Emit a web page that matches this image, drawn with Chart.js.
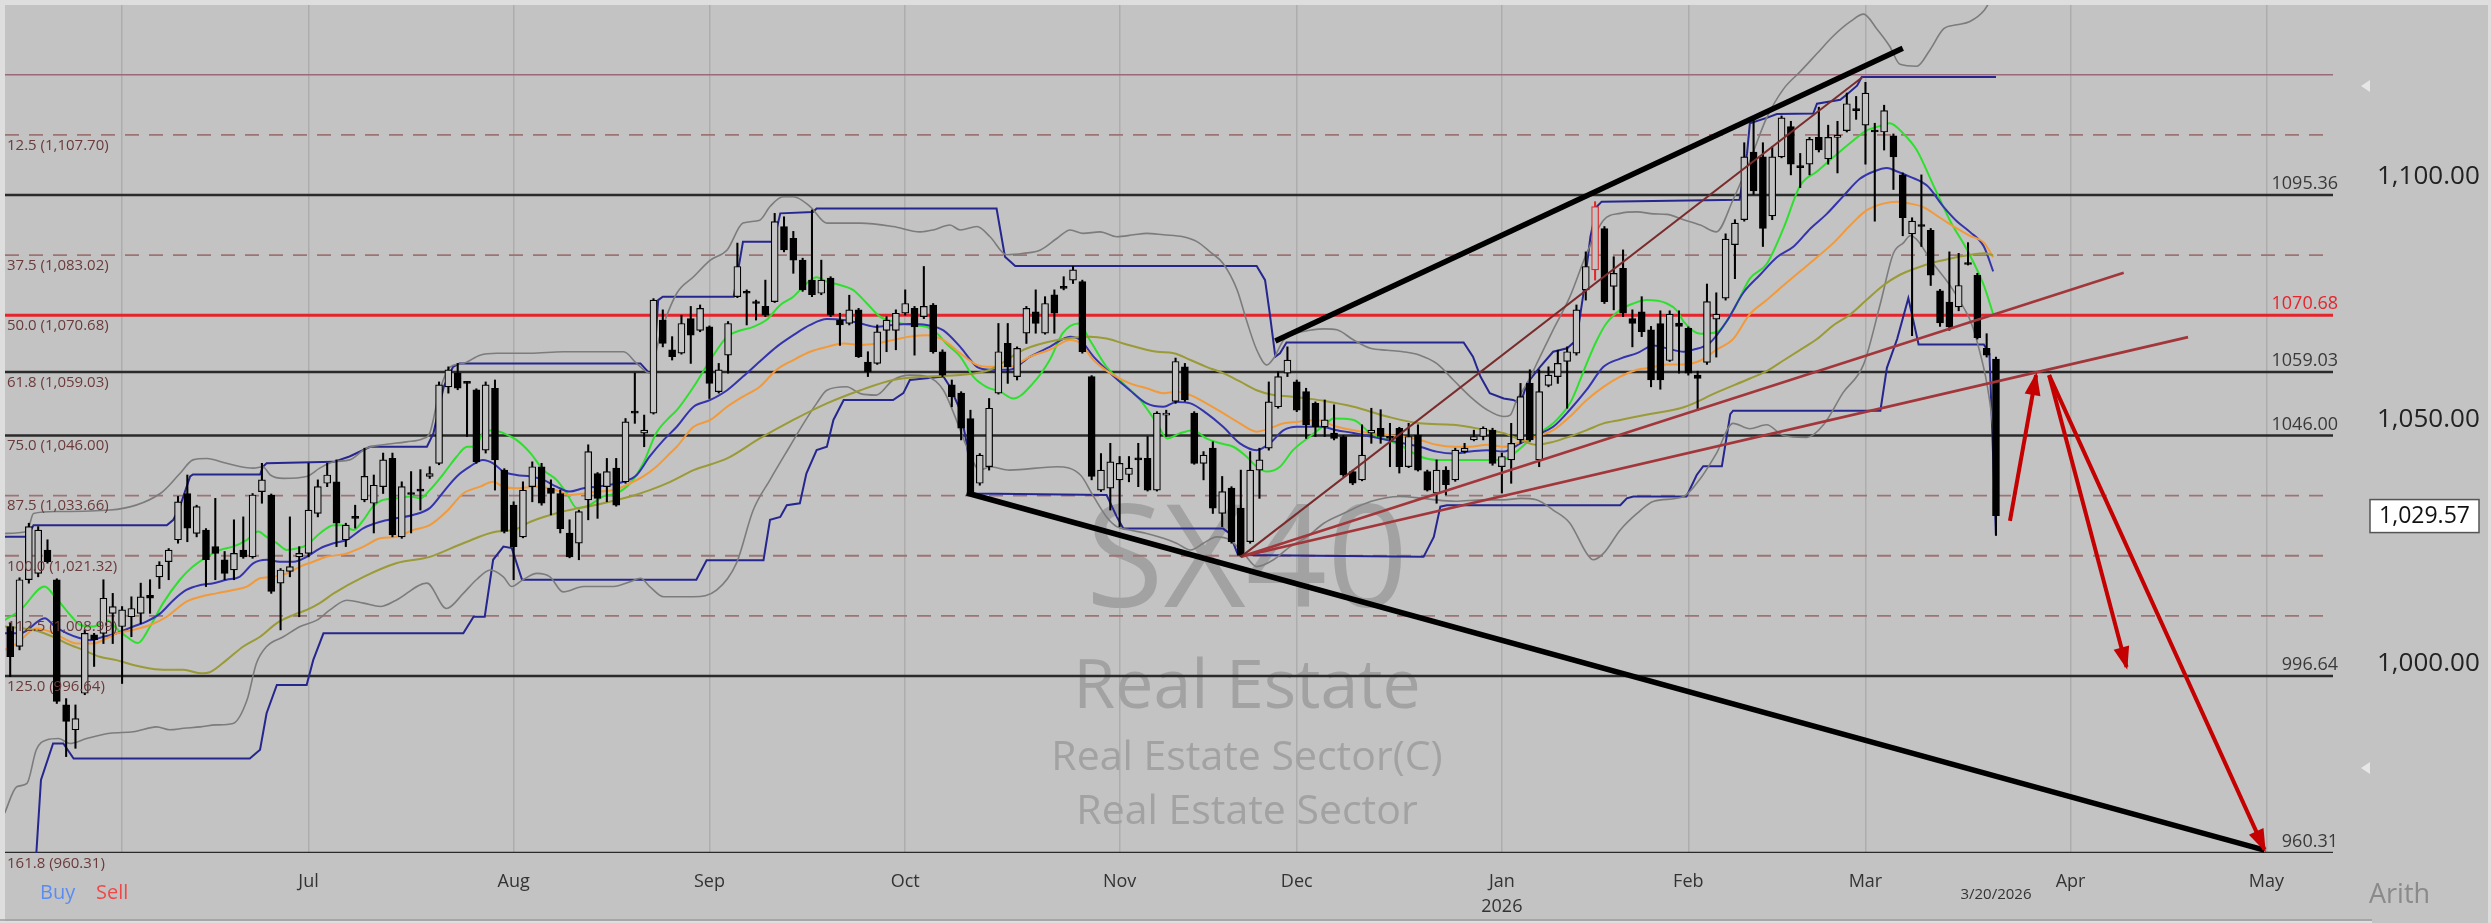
<!DOCTYPE html>
<html><head><meta charset="utf-8">
<script src="https://cdn.jsdelivr.net/npm/chart.js@4.4.1/dist/chart.umd.min.js"></script>
<style>html,body{margin:0;padding:0;background:#c3c3c3;overflow:hidden}canvas{display:block}</style>
</head><body>
<canvas id="c" width="2491" height="923"></canvas>
<script>
// ---------- DATA (daily OHLC, index 0 = first visible trading day, last = 3/20/2026) ----------
const opens = [1006.8,1002.7,1016.4,1017.7,1022.5,1016.4,990.7,985.6,993.1,1005.1,
1005.4,1009.5,1006.8,1008.8,1009.5,1013.2,1017.0,1020.1,1024.6,1034.1,
1025.9,1026.6,1023.2,1020.5,1018.4,1022.5,1021.1,1034.5,1033.8,1015.7,
1018.1,1021.1,1021.8,1030.0,1036.2,1036.5,1024.6,1029.3,1032.8,1032.1,
1035.5,1041.3,1025.2,1034.3,1034.8,1037.6,1040.3,1056.0,1058.8,1056.9,
1055.4,1043.0,1055.7,1038.9,1031.7,1025.2,1035.5,1039.6,1035.2,1034.1,
1026.0,1023.9,1032.8,1038.2,1035.5,1039.3,1036.5,1050.9,1046.5,1050.6,
1069.7,1063.6,1062.9,1070.0,1067.6,1068.3,1055.0,1062.5,1074.5,1075.6,
1073.5,1072.5,1073.5,1088.9,1086.5,1082.0,1077.9,1075.2,1078.3,1069.7,
1069.0,1071.8,1061.1,1060.8,1067.6,1067.6,1071.1,1072.1,1070.4,1072.8,
1063.2,1056.4,1054.7,1049.5,1036.2,1039.6,1054.7,1064.9,1058.1,1067.0,
1071.4,1067.0,1074.9,1076.6,1077.9,1077.6,1058.1,1034.8,1035.2,1036.9,
1038.0,1041.3,1041.3,1034.8,1050.2,1053.0,1060.1,1050.6,1040.3,1043.4,
1030.0,1035.2,1031.1,1024.2,1038.9,1043.4,1051.9,1058.8,1057.0,1055.0,
1052.6,1047.8,1046.5,1045.8,1038.6,1036.9,1046.5,1047.5,1045.8,1047.5,
1039.6,1046.1,1038.6,1034.2,1038.9,1036.9,1042.7,1045.1,1045.8,1047.1,
1039.6,1041.0,1045.1,1056.7,1041.0,1056.3,1058.1,1061.2,1062.9,1075.9,
1080.0,1088.5,1076.6,1080.3,1070.0,1071.4,1067.7,1069.0,1061.4,1069.1,
1068.0,1058.4,1061.0,1069.9,1074.2,1085.2,1090.3,1104.2,1103.2,1091.1,
1103.2,1109.4,1101.4,1101.7,1107.2,1102.8,1107.2,1108.6,1113.1,1109.7,
1108.6,1108.3,1107.5,1099.5,1087.4,1089.2,1088.1,1075.7,1073.4,1072.4,
1081.5,1078.9,1063.9,1061.7];
const highs = [1007.5,1016.8,1028.0,1027.3,1024.6,1016.6,992.0,990.7,1006.1,1005.4,
1016.4,1013.6,1010.9,1012.9,1015.7,1016.4,1020.1,1022.8,1033.5,1037.9,
1031.7,1026.9,1033.1,1022.2,1028.7,1029.3,1034.1,1040.3,1034.0,1018.7,
1029.3,1023.2,1040.3,1036.9,1040.3,1041.0,1028.0,1031.7,1043.4,1037.9,
1042.4,1042.4,1036.5,1038.6,1039.0,1039.6,1057.0,1060.1,1060.8,1057.1,
1055.6,1057.0,1057.4,1039.2,1032.4,1036.5,1040.6,1040.3,1036.9,1034.8,
1028.7,1030.7,1044.1,1038.4,1041.3,1041.3,1049.5,1058.8,1050.2,1074.1,
1071.8,1066.3,1070.7,1072.5,1072.8,1068.5,1060.8,1069.4,1085.5,1075.9,
1073.8,1077.9,1091.6,1090.9,1087.9,1082.4,1092.3,1082.0,1078.6,1071.1,
1074.8,1072.1,1063.2,1068.7,1070.4,1071.8,1075.9,1072.5,1080.7,1073.1,
1063.6,1057.4,1055.0,1051.2,1042.3,1053.6,1069.0,1069.0,1064.2,1072.5,
1075.9,1074.5,1075.9,1078.6,1080.7,1077.9,1058.3,1042.3,1044.4,1041.7,
1041.7,1044.4,1045.8,1050.9,1051.2,1061.9,1060.8,1050.9,1042.7,1044.7,
1037.6,1035.5,1038.9,1042.7,1043.4,1057.0,1059.1,1064.2,1057.4,1055.7,
1052.9,1053.3,1052.3,1046.0,1038.9,1048.2,1051.6,1051.3,1048.5,1047.7,
1048.5,1048.2,1038.9,1041.0,1039.6,1043.4,1044.4,1047.1,1047.8,1047.5,
1042.4,1048.5,1056.7,1059.5,1059.5,1060.1,1063.5,1064.2,1072.8,1083.7,
1094.0,1088.9,1082.7,1084.1,1071.8,1074.5,1068.4,1071.6,1071.6,1071.6,
1068.3,1059.2,1077.1,1075.3,1087.4,1090.3,1106.1,1111.2,1106.1,1105.3,
1111.6,1110.5,1103.9,1107.2,1113.4,1109.7,1110.5,1116.3,1115.6,1118.5,
1110.1,1113.8,1107.9,1099.9,1090.7,1099.5,1088.5,1076.0,1083.7,1083.4,
1085.6,1079.3,1066.9,1062.1];
const lows = [996.5,1002.0,1015.7,1017.0,1019.8,991.0,980.1,981.8,992.8,998.6,
1003.3,1003.3,995.1,1004.7,1007.4,1009.5,1014.6,1016.4,1023.9,1024.2,
1025.2,1015.0,1016.4,1016.4,1016.4,1020.8,1020.8,1032.1,1013.6,1006.1,
1017.0,1008.8,1021.1,1029.3,1035.5,1023.2,1023.2,1027.0,1032.4,1026.0,
1034.1,1025.2,1024.9,1026.0,1030.7,1037.2,1040.0,1054.7,1055.4,1045.8,
1040.3,1042.4,1034.8,1026.0,1016.4,1025.0,1032.4,1031.7,1029.7,1026.0,
1020.9,1020.5,1028.7,1029.0,1032.4,1031.5,1036.2,1048.5,1043.7,1050.4,
1064.2,1061.5,1062.7,1060.8,1067.3,1053.6,1054.7,1058.8,1074.3,1068.7,
1069.7,1070.4,1073.3,1083.7,1079.3,1075.6,1074.5,1074.9,1070.4,1064.5,
1068.7,1062.0,1058.1,1060.6,1063.2,1063.6,1070.7,1062.5,1070.0,1062.9,
1058.1,1051.9,1045.1,1034.0,1035.8,1038.9,1054.5,1056.7,1057.4,1064.9,
1067.0,1066.8,1067.0,1075.9,1077.2,1062.9,1036.9,1034.5,1030.7,1027.3,
1036.5,1035.5,1034.6,1034.6,1045.8,1052.6,1053.0,1040.1,1036.9,1030.0,
1027.3,1023.9,1021.1,1023.9,1033.1,1043.0,1051.6,1058.1,1050.9,1045.4,
1045.8,1045.8,1045.1,1037.6,1035.9,1036.7,1044.4,1044.4,1039.6,1038.3,
1039.4,1038.7,1034.6,1032.1,1033.8,1036.6,1042.4,1044.9,1045.1,1039.9,
1034.2,1036.2,1044.4,1044.8,1039.6,1056.0,1056.7,1051.6,1062.5,1073.8,
1077.9,1073.1,1071.8,1070.4,1064.2,1066.3,1056.0,1055.5,1061.2,1058.8,
1058.4,1051.1,1060.6,1062.1,1073.8,1078.2,1090.0,1095.5,1084.8,1090.3,
1103.0,1099.5,1096.9,1099.5,1104.2,1101.7,1099.9,1108.3,1110.9,1101.7,
1090.0,1104.6,1096.5,1087.0,1066.5,1084.8,1076.8,1068.4,1067.6,1071.6,
1081.0,1065.8,1062.1,1025.5];
const closes = [1000.6,1016.4,1027.3,1026.6,1020.1,991.4,987.3,987.9,1005.4,1004.1,
1012.6,1010.9,1010.2,1010.5,1012.9,1012.6,1019.4,1022.5,1032.4,1027.0,
1031.4,1020.5,1021.8,1017.7,1021.8,1021.1,1033.8,1036.9,1014.0,1018.4,
1019.1,1021.8,1030.7,1035.5,1037.9,1028.0,1027.6,1029.0,1037.6,1035.8,
1041.0,1025.6,1035.5,1033.9,1034.6,1038.2,1056.4,1059.5,1055.7,1056.7,
1040.6,1056.4,1041.0,1026.3,1023.2,1034.8,1039.6,1032.1,1034.1,1026.9,
1021.1,1030.4,1042.7,1033.1,1038.6,1031.7,1048.8,1050.6,1047.1,1073.8,
1064.9,1062.2,1069.0,1066.6,1072.1,1056.7,1059.5,1069.0,1080.7,1075.2,
1073.1,1070.7,1089.9,1084.1,1082.0,1075.9,1074.9,1077.9,1070.7,1068.7,
1071.8,1062.2,1059.1,1067.3,1069.7,1071.1,1073.1,1068.3,1072.5,1063.2,
1058.4,1054.0,1047.5,1034.1,1042.0,1051.6,1063.2,1060.1,1063.9,1072.1,
1069.0,1073.1,1071.1,1076.2,1080.0,1063.2,1037.6,1038.9,1040.6,1040.3,
1039.3,1041.0,1034.8,1050.6,1050.6,1061.2,1053.3,1040.3,1042.0,1031.1,
1034.5,1024.2,1021.5,1038.9,1041.0,1052.9,1058.1,1061.5,1051.2,1048.2,
1047.8,1049.2,1045.4,1037.9,1036.2,1042.0,1047.1,1045.8,1045.4,1039.6,
1045.8,1038.9,1034.8,1038.9,1035.9,1043.0,1043.4,1045.8,1047.5,1040.3,
1041.7,1044.4,1054.0,1045.1,1055.0,1058.4,1060.8,1063.2,1071.8,1080.7,
1093.0,1073.5,1079.3,1071.1,1069.0,1067.3,1057.4,1057.4,1070.9,1068.4,
1058.8,1057.7,1073.5,1070.9,1086.3,1089.6,1103.2,1096.2,1088.5,1103.2,
1111.2,1101.7,1101.0,1106.8,1104.6,1107.2,1107.5,1114.1,1112.7,1116.3,
1108.3,1112.7,1103.2,1090.7,1090.0,1088.9,1078.9,1069.1,1068.3,1076.8,
1081.1,1066.1,1062.5,1029.57];
const signalIdx = [170];            // candle drawn in red
const lastDateLabel = '3/20/2026';
const lastPrice = 1029.57;

// month gridlines/ticks (trading-day index of first session of month)
const monthTickIdx = [12,32,54,75,96,119,138,160,180,199,221,242];
const monthTickLbl = ['','Jul','Aug','Sep','Oct','Nov','Dec',['Jan','2026'],'Feb','Mar','Apr','May'];
const yTickVals = [1000,1050,1100];

// Fibonacci retracement levels
const fibPct = [0,12.5,25,37.5,50,61.8,75,87.5,100,112.5,125,161.8];
const fibVal = [1120.03,1107.70,1095.36,1083.02,1070.68,1059.03,1046.00,1033.66,1021.32,1008.99,996.64,960.31];

// indicators: [tradingDayIndex, value]
const bbUpper = [[-0.6,1025.9],[1.8,1026.3],[2.5,1030.0],[5,1030.4],[10.7,1030.7],[16.1,1034.1],[18.2,1038.2],[19.6,1041.0],[21.1,1041.3],[23.2,1040.3],[26.1,1039.3],[27.1,1039.6],[27.9,1037.9],[29.3,1037.2],[31.8,1037.6],[33.2,1039.3],[34.7,1040.6],[36.4,1041.0],[38.2,1043.4],[40.0,1044.1],[42.5,1044.7],[44.3,1045.4],[45.0,1046.5],[46.1,1055.4],[47.2,1060.1],[48.6,1060.8],[50.4,1062.5],[52.2,1062.9],[55.8,1062.9],[59.3,1063.2],[62.9,1063.2],[65.8,1063.2],[67.2,1060.8],[68.6,1058.8],[69.7,1066.6],[71.5,1075.2],[73.3,1078.6],[75.1,1082.0],[76.9,1084.1],[78.6,1089.6],[80.4,1090.2],[81.5,1093.0],[82.9,1095.0],[84.0,1095.0],[85.8,1093.0],[87.6,1089.6],[91.2,1089.6],[94.7,1088.9],[97.6,1087.8],[99.0,1088.2],[100.8,1089.2],[101.9,1088.2],[103.7,1088.9],[105.1,1086.8],[106.9,1083.1],[108.7,1083.4],[110.5,1084.1],[112.3,1086.5],[113.7,1088.2],[115.1,1087.5],[116.9,1087.8],[118.7,1086.8],[120.5,1087.2],[121.9,1087.5],[123.7,1087.2],[125.8,1086.8],[127.3,1085.8],[128.7,1083.7],[130.1,1081.3],[131.6,1075.9],[132.6,1069.7],[133.7,1063.6],[134.8,1060.5],[135.5,1061.8],[136.6,1065.6],[138.0,1067.0],[139.4,1067.6],[141.0,1067.9],[142.3,1067.7],[144.1,1065.6],[145.9,1063.9],[147.7,1063.5],[149.4,1063.2],[151.2,1062.5],[153.0,1060.8],[154.8,1057.4],[156.6,1054.0],[158.4,1051.3],[160.2,1049.9],[160.9,1050.2],[161.6,1053.3],[162.7,1056.7],[164.1,1062.2],[165.5,1067.7],[167.3,1074.5],[169.1,1083.4],[170.9,1090.2],[172.7,1091.6],[174.5,1091.9],[176.3,1091.5],[177.7,1091.4],[179.5,1090.3],[181.3,1089.2],[183.0,1087.8],[184.8,1094.4],[186.6,1102.4],[188.4,1111.2],[190.2,1117.1],[192.0,1120.7],[193.8,1124.4],[195.6,1128.1],[197.4,1131.0],[198.8,1132.5],[200.2,1129.5],[201.6,1125.9],[202.7,1122.2],[204.5,1121.8],[205.9,1125.1],[207.4,1129.5],[208.8,1130.3],[210.2,1131.0],[211.7,1133.2],[212.4,1135.4],[213,1138.0]];
const bbLower = [[-0.6,968.5],[0.7,973.9],[1.8,974.6],[2.8,981.5],[3.9,983.5],[5.2,983.8],[6.4,982.8],[8.2,983.8],[10.7,984.9],[13.2,985.2],[15.7,986.2],[17.1,985.6],[18.6,985.9],[20.4,986.2],[22.1,986.6],[23.9,986.9],[25.4,991.7],[26.4,999.2],[27.5,1002.7],[29.3,1004.7],[31.1,1006.8],[32.9,1008.1],[34.3,1010.2],[36.1,1012.2],[37.9,1011.6],[39.7,1010.9],[41.4,1012.2],[44.7,1015.7],[46.8,1010.5],[48.6,1013.6],[50.0,1016.4],[51.5,1018.4],[52.9,1017.0],[53.8,1015.0],[55.0,1016.4],[56.5,1017.7],[57.9,1017.0],[59.3,1013.9],[61.5,1015.0],[64.7,1015.0],[66.5,1016.0],[67.6,1016.7],[68.6,1015.0],[70.1,1012.9],[73.3,1012.9],[75.8,1014.3],[77.9,1019.8],[79.7,1030.7],[81.5,1036.9],[83.6,1043.7],[85.1,1048.5],[86.5,1052.6],[87.6,1055.3],[89.7,1056.0],[91.2,1054.6],[92.9,1054.3],[94.7,1057.4],[96.5,1058.4],[98.3,1058.1],[100.1,1055.3],[101.2,1050.6],[102.6,1043.7],[104.0,1038.9],[105.1,1039.6],[107.2,1038.9],[112.3,1039.6],[114.8,1037.9],[116.2,1033.5],[117.6,1029.3],[118.7,1027.3],[120.1,1026.6],[121.9,1025.9],[123.7,1024.9],[125.1,1023.9],[126.6,1022.5],[128.0,1023.9],[129.4,1025.2],[130.8,1024.6],[132.3,1021.8],[133.7,1019.1],[135.5,1020.5],[137.3,1023.2],[139.1,1025.2],[140.9,1028.0],[143,1030.0],[146,1032.5],[149,1033.5],[152,1033.0],[155,1032.5],[158,1032.8],[160.2,1032.8],[162.0,1033.1],[163.7,1032.8],[165.5,1030.7],[167.3,1028.0],[169.1,1021.8],[169.8,1020.5],[170.9,1021.8],[172.7,1026.6],[174.5,1030.0],[176.3,1032.5],[179.5,1033.5],[181.3,1037.2],[183.0,1042.3],[184.8,1048.5],[186.6,1047.4],[188.4,1048.2],[190.2,1046.0],[192.7,1045.6],[194.5,1048.2],[196.6,1054.8],[198.8,1060.6],[200.6,1073.1],[202.0,1083.4],[203.1,1085.6],[203.8,1087.0],[206.3,1081.2],[208.8,1074.6],[210.9,1065.8],[212.7,1047.4],[213,1040.0]];
const chanUpper = [[-0.6,1025.2],[1.8,1025.2],[2.5,1027.6],[16.8,1027.6],[17.5,1028.7],[18.2,1031.4],[19.3,1037.6],[19.6,1038.0],[26.8,1038.0],[27.1,1039.6],[27.5,1040.3],[34.7,1040.6],[36.4,1041.7],[38.6,1043.7],[44.7,1043.7],[45.4,1046.5],[46.5,1056.0],[47.5,1060.1],[48.2,1060.8],[67.6,1060.8],[68.4,1059.1],[69.0,1058.8],[69.5,1073.8],[70.0,1074.5],[77.6,1074.5],[78.6,1085.8],[81.9,1085.8],[82.6,1091.6],[86.1,1091.9],[86.5,1092.6],[105.8,1092.6],[106.7,1082.7],[107.8,1080.8],[133.7,1080.8],[134.6,1077.9],[135.1,1071.1],[135.7,1062.2],[136.2,1062.9],[136.9,1065.1],[155.9,1065.1],[156.9,1062.2],[157.7,1058.1],[158.7,1054.7],[160.2,1053.6],[161.2,1053.3],[162.0,1052.6],[162.7,1056.7],[164.1,1060.1],[165.5,1063.2],[167.0,1063.9],[168.0,1065.6],[168.7,1074.5],[169.5,1086.8],[170.2,1093.0],[170.7,1094.0],[185.5,1094.4],[186.3,1103.9],[186.6,1110.1],[188.4,1111.2],[189.5,1112.0],[193.4,1112.1],[193.8,1114.1],[196.3,1114.9],[197.0,1116.0],[198.1,1117.8],[198.6,1119.6],[213,1119.6]];
const chanLower = [[2.0,955.0],[2.8,960.2],[3.3,975.3],[4.6,982.8],[5.7,982.8],[6.8,979.7],[25.7,979.7],[26.8,981.5],[27.5,989.0],[28.6,994.8],[31.8,994.8],[32.5,999.9],[33.6,1005.4],[48.6,1005.4],[49.7,1008.8],[50.9,1008.8],[51.8,1020.5],[52.9,1023.2],[53.8,1022.9],[54.9,1016.4],[73.6,1016.4],[74.7,1020.4],[80.8,1020.4],[81.5,1028.7],[82.6,1029.3],[83.3,1031.7],[84.7,1032.1],[85.4,1038.2],[86.5,1043.0],[87.6,1043.7],[88.3,1049.2],[89.4,1053.3],[94.7,1053.3],[95.8,1054.7],[96.5,1057.4],[100.1,1058.1],[100.8,1056.0],[101.9,1051.2],[102.6,1044.4],[103.3,1034.1],[117.6,1033.8],[118.7,1029.3],[119.4,1026.9],[130.1,1026.9],[130.8,1025.9],[131.7,1021.5],[151.6,1021.1],[152.7,1025.2],[153.4,1031.4],[154.1,1031.7],[172.7,1031.7],[173.4,1033.1],[174.1,1033.5],[179.8,1033.5],[180.9,1037.9],[181.6,1039.7],[183.6,1039.7],[184.5,1050.4],[184.8,1051.1],[200.6,1051.1],[201.3,1059.9],[202.4,1065.8],[203.6,1074.2],[204.7,1064.7],[211.7,1064.7],[212.3,1062.8],[213,1025.5]];
const maGreen = [[-0.6,1008.1],[1.1,1010.2],[3.7,1015.0],[4.8,1012.9],[6.6,1008.8],[7.5,1007.1],[8.9,1006.8],[10.4,1008.1],[11.4,1006.4],[12.5,1004.7],[13.7,1003.4],[15.0,1006.8],[16.4,1011.6],[18.2,1016.4],[19.6,1019.1],[21.1,1021.1],[22.5,1022.5],[23.9,1023.2],[25.4,1024.6],[26.6,1026.3],[27.5,1025.2],[28.6,1023.9],[29.7,1022.5],[30.7,1022.8],[31.8,1023.5],[33.2,1025.9],[34.7,1027.6],[35.7,1027.6],[36.8,1026.6],[37.9,1028.7],[38.9,1031.4],[40.0,1032.8],[41.4,1033.1],[42.9,1033.5],[44.0,1033.1],[45.0,1034.8],[46.5,1038.2],[47.9,1041.7],[49.0,1043.7],[49.9,1043.7],[50.7,1046.5],[51.8,1047.1],[52.9,1046.5],[54.3,1045.1],[55.8,1042.4],[57.2,1038.9],[58.6,1036.9],[59.7,1034.1],[60.8,1031.1],[62.2,1031.8],[63.6,1033.5],[65.0,1034.1],[66.5,1036.2],[67.9,1040.3],[69.3,1046.5],[70.8,1049.9],[71.5,1051.2],[73.3,1056.0],[75.1,1061.5],[76.9,1066.3],[77.9,1067.3],[79.7,1068.3],[81.1,1069.7],[82.6,1072.8],[84.0,1074.5],[85.4,1077.2],[86.5,1078.5],[87.6,1077.6],[89.0,1076.9],[90.4,1075.9],[91.9,1073.1],[93.3,1070.4],[94.7,1069.4],[96.5,1068.7],[98.3,1068.3],[99.4,1067.0],[100.4,1064.9],[101.9,1062.2],[103.3,1058.1],[104.7,1056.0],[106.2,1055.0],[107.6,1053.6],[109.7,1056.7],[111.5,1061.5],[112.9,1067.0],[114.6,1069.0],[115.8,1065.6],[117.6,1060.1],[119.4,1056.7],[121.2,1053.3],[123.0,1048.5],[124.1,1045.4],[125.5,1046.5],[126.9,1047.1],[128.3,1045.4],[129.8,1044.4],[131.2,1043.7],[132.6,1041.7],[133.7,1039.6],[134.8,1038.6],[136.2,1039.6],[137.6,1043.0],[139.4,1045.8],[141.2,1048.5],[141.9,1049.5],[144.1,1049.2],[145.9,1046.5],[147.7,1045.1],[149.4,1043.7],[151.2,1041.7],[153.0,1041.0],[158.4,1041.0],[160.2,1041.1],[162.0,1043.4],[163.4,1045.8],[165.5,1048.5],[167.3,1052.6],[168.4,1057.4],[169.1,1060.8],[170.2,1065.6],[171.2,1069.0],[172.7,1071.8],[174.1,1073.1],[175.5,1073.8],[177.7,1073.1],[178.8,1071.6],[179.5,1069.4],[181.3,1066.9],[183.0,1067.2],[184.8,1071.6],[186.6,1078.2],[188.4,1081.2],[190.2,1088.5],[192.0,1097.3],[193.8,1100.2],[195.6,1103.2],[197.4,1106.1],[199.1,1108.6],[200.9,1109.7],[201.6,1110.1],[203.1,1107.9],[204.5,1104.6],[206.3,1097.3],[208.1,1090.0],[209.9,1084.1],[211.7,1076.8],[212.7,1070.9]];
const maBlue = [[-0.6,1005.4],[1.1,1005.4],[3.7,1008.5],[4.8,1006.8],[6.1,1005.4],[7.5,1004.4],[8.6,1004.0],[10.0,1004.7],[11.4,1005.4],[13.2,1006.8],[14.6,1007.8],[16.1,1009.5],[17.5,1012.2],[18.9,1014.3],[20.4,1015.3],[21.8,1015.7],[23.2,1016.4],[24.6,1017.0],[26.1,1019.8],[27.5,1020.5],[28.9,1020.1],[30.4,1020.1],[31.8,1021.1],[33.2,1022.8],[34.7,1023.9],[36.1,1024.6],[37.9,1027.0],[39.7,1028.3],[41.4,1029.0],[43.2,1029.7],[45.0,1031.1],[46.5,1034.5],[47.9,1037.6],[49.3,1039.6],[50.7,1041.0],[51.8,1040.3],[52.9,1038.6],[54.3,1037.9],[55.8,1037.6],[57.2,1036.9],[58.6,1035.5],[60.0,1034.5],[61.5,1035.2],[62.9,1035.5],[64.3,1035.9],[65.8,1036.5],[67.2,1037.9],[68.6,1041.7],[70.1,1045.1],[71.5,1047.8],[73.3,1051.9],[75.1,1053.3],[76.9,1055.3],[78.6,1058.1],[80.4,1061.2],[82.2,1064.2],[84.0,1066.6],[85.8,1068.7],[87.6,1069.9],[89.4,1069.7],[91.2,1069.0],[92.9,1068.3],[94.7,1068.7],[96.5,1068.9],[98.3,1068.7],[100.1,1067.6],[101.9,1064.2],[103.7,1060.1],[105.1,1059.5],[107.2,1059.5],[109.4,1062.2],[111.5,1064.2],[113.7,1066.3],[114.8,1065.6],[116.2,1062.2],[118.0,1058.8],[120.1,1055.3],[121.9,1052.6],[123.7,1051.9],[125.1,1052.9],[126.6,1052.6],[128.3,1050.6],[130.1,1047.8],[131.9,1044.4],[133.7,1043.0],[135.1,1044.4],[136.6,1047.1],[138.0,1047.8],[140.5,1047.8],[142.3,1047.1],[144.1,1046.5],[145.9,1045.8],[147.7,1045.1],[149.4,1044.4],[151.2,1043.7],[153.0,1042.7],[154.8,1042.3],[156.6,1042.7],[158.4,1043.0],[160.2,1042.7],[162.0,1044.4],[163.7,1046.1],[165.5,1047.8],[167.3,1051.3],[169.1,1055.4],[170.9,1060.1],[172.7,1061.8],[174.5,1062.9],[176.3,1064.5],[177.7,1063.9],[179.5,1063.2],[180.5,1063.6],[182.3,1065.0],[184.1,1069.4],[185.9,1075.3],[187.7,1079.0],[189.5,1082.6],[191.3,1084.8],[193.1,1088.5],[194.8,1091.4],[196.6,1095.1],[198.4,1098.7],[199.9,1100.2],[201.3,1100.9],[202.4,1100.2],[203.8,1099.1],[205.6,1097.3],[207.4,1092.9],[208.8,1090.0],[210.2,1087.8],[211.7,1084.8],[212.7,1079.7]];
const maOrange = [[-0.6,1002.0],[0.7,1003.3],[2.8,1006.4],[4.2,1005.8],[6.1,1004.0],[7.1,1003.3],[8.9,1003.3],[10.4,1004.4],[11.4,1005.4],[13.2,1006.1],[15.0,1007.1],[16.8,1008.8],[18.9,1011.9],[20.4,1012.9],[22.1,1013.6],[23.9,1014.3],[25.4,1015.0],[26.8,1016.7],[28.2,1017.0],[29.7,1017.7],[31.1,1019.1],[32.5,1020.1],[33.9,1021.1],[35.4,1021.5],[36.1,1021.8],[37.9,1023.2],[39.7,1024.9],[41.4,1025.2],[43.2,1026.6],[45.0,1027.6],[46.8,1030.4],[48.6,1034.1],[50.4,1035.5],[51.8,1036.5],[52.9,1035.5],[54.3,1035.2],[56.5,1035.5],[58.6,1034.8],[60.0,1033.8],[61.5,1034.1],[62.9,1034.5],[64.7,1034.8],[66.5,1036.2],[67.9,1037.6],[69.3,1039.6],[70.8,1042.4],[71.5,1043.7],[73.3,1047.8],[75.1,1049.2],[76.9,1051.9],[78.6,1054.0],[80.4,1056.0],[82.2,1059.5],[84.0,1061.5],[85.8,1063.2],[87.6,1064.2],[89.4,1064.9],[91.2,1064.6],[92.9,1064.9],[94.7,1065.6],[96.5,1066.3],[98.3,1066.6],[100.1,1065.6],[101.9,1062.9],[103.7,1060.5],[105.1,1060.1],[107.2,1060.1],[109.4,1062.2],[111.5,1063.6],[113.7,1065.6],[114.8,1064.9],[116.2,1061.5],[118.0,1058.8],[120.1,1056.7],[121.9,1055.7],[123.7,1054.7],[125.1,1055.0],[126.6,1054.3],[128.3,1052.6],[130.1,1050.6],[131.9,1048.5],[133.7,1046.8],[135.1,1047.5],[136.6,1048.5],[138.0,1048.8],[140.1,1049.2],[142.3,1047.8],[144.1,1047.1],[145.9,1046.5],[147.7,1046.1],[149.4,1045.8],[151.2,1045.1],[153.0,1044.1],[154.8,1043.7],[156.6,1043.7],[158.4,1044.1],[160.2,1043.7],[162.0,1044.7],[163.7,1045.8],[165.5,1047.1],[167.3,1049.9],[169.1,1053.3],[170.9,1056.0],[172.7,1058.1],[174.5,1059.5],[175.9,1059.9],[177.7,1060.6],[179.5,1060.6],[181.3,1061.4],[183.0,1063.6],[184.8,1065.8],[186.6,1070.9],[188.4,1073.8],[190.2,1076.8],[192.0,1079.7],[193.8,1082.6],[195.6,1085.6],[197.4,1089.2],[199.1,1092.2],[200.9,1093.6],[202.4,1094.0],[203.8,1093.6],[205.2,1092.9],[207.0,1090.7],[208.8,1088.5],[210.2,1087.0],[211.7,1085.6],[212.7,1082.6]];
const maOlive = [[-0.6,1006.8],[2.5,1006.1],[4.6,1004.7],[6.1,1003.3],[7.8,1002.0],[9.6,1000.6],[11.4,999.9],[13.2,998.9],[15.0,998.2],[16.8,997.9],[18.6,997.9],[20.4,997.2],[21.5,997.5],[23.2,999.9],[25.0,1002.7],[26.8,1004.7],[28.6,1007.5],[30.4,1009.2],[31.8,1010.2],[33.2,1011.6],[34.7,1013.6],[37.9,1017.0],[41.4,1019.8],[45.0,1021.1],[48.6,1023.9],[52.2,1026.3],[54.0,1026.6],[55.8,1028.3],[59.3,1030.4],[62.9,1031.8],[66.5,1033.5],[68.6,1034.8],[70.8,1036.5],[73.3,1038.9],[76.9,1041.3],[80.4,1045.4],[84.0,1049.2],[87.6,1052.6],[91.2,1055.3],[94.7,1057.4],[98.3,1058.1],[101.9,1058.4],[105.1,1059.5],[108.7,1063.6],[112.3,1065.6],[115.8,1066.3],[117.6,1065.9],[119.4,1064.9],[123.0,1063.2],[124.8,1062.9],[126.6,1061.5],[128.3,1060.1],[130.1,1058.8],[131.9,1057.1],[133.7,1055.3],[135.5,1054.3],[137.3,1054.0],[139.1,1053.6],[141.0,1053.1],[144.1,1051.9],[147.7,1049.9],[151.2,1048.5],[154.8,1048.2],[158.4,1047.1],[160.2,1046.5],[162.0,1045.1],[163.7,1044.1],[165.5,1044.7],[167.3,1045.8],[169.1,1047.1],[170.9,1048.5],[172.7,1049.2],[174.5,1049.9],[175.9,1050.4],[179.5,1051.8],[183.0,1054.8],[186.6,1057.7],[188.4,1059.2],[190.2,1061.4],[192.0,1063.6],[193.8,1065.8],[195.6,1068.7],[197.4,1070.9],[199.1,1073.8],[200.9,1076.8],[202.7,1079.0],[204.5,1080.4],[206.3,1081.5],[208.1,1082.3],[209.9,1083.0],[211.7,1083.4],[212.7,1083.0]];

// drawn trend lines / projections: [index, price]
const trendUpperBlack = [[135.7,1065.4],[203.0,1125.5]];
const trendLowerBlack = [[102.6,1034.2],[241.8,960.9]];
const trendSteepBrown = [[132,1021.1],[198.7,1119.6]];
const trendMidBrown = [[132,1021.1],[226.7,1079.4]];
const trendLowBrown = [[132,1021.1],[233.6,1066.2]];
const arrowUp = [[214.5,1028.5],[217.3,1058.4]];
const arrowDownA = [[218.7,1058.4],[227.0,998.5]];
const arrowDownB = [[218.7,1058.4],[241.8,961.0]];

// ---------- CHART ----------
const X_MIN = -0.558, X_MAX = 249.15, Y_MIN = 960.31, Y_MAX = 1134.37;
const BG = '#c3c3c3';
const FONT = '"Open Sans", "Noto Sans", sans-serif';
const pts = a => a.map(p => ({x: p[0], y: p[1]}));
const isUp = i => closes[i] >= opens[i];
const isSig = i => signalIdx.includes(i);
const fmt2 = v => v.toLocaleString('en-US', {minimumFractionDigits: 2, maximumFractionDigits: 2});

function fibStyle(p) {
  if (p === 0) return {c: '#9a6a7a', w: 1.5, d: []};
  if (p === 50) return {c: '#e5242c', w: 3, d: []};
  if ([25, 61.8, 75, 125, 161.8].includes(p)) return {c: '#2a2a2a', w: 2.6, d: []};
  return {c: '#9c7474', w: 1.8, d: [14, 10]};
}
const fibDatasets = fibPct.map((p, k) => {
  const s = fibStyle(p);
  return {type: 'line', data: [{x: X_MIN, y: fibVal[k]}, {x: X_MAX, y: fibVal[k]}],
    borderColor: s.c, borderWidth: s.w, borderDash: s.d, pointRadius: 0, order: 10};
});
const lineDs = (arr, color, w, order, mono) => ({type: 'line', data: pts(arr), borderColor: color,
  borderWidth: w, pointRadius: 0, order: order, cubicInterpolationMode: mono ? 'monotone' : 'default', tension: 0});

const arrowDefs = [arrowUp, arrowDownA, arrowDownB];
const datasets = [
  ...arrowDefs.map(a => lineDs(a, '#c40000', 4, -3, false)),
  lineDs(trendUpperBlack, '#000', 5.5, -2, false),
  lineDs(trendLowerBlack, '#000', 5.5, -2, false),
  lineDs(trendSteepBrown, '#7a2c2c', 2, -1, false),
  lineDs(trendMidBrown, '#a2363a', 2.6, -1, false),
  lineDs(trendLowBrown, '#a2363a', 2.6, -1, false),
  {type: 'bar', data: opens.map((o, i) => ({x: i, y: [o, closes[i]]})), grouped: false,
    barThickness: 7, minBarLength: 2, borderSkipped: false, borderWidth: 1.2,
    backgroundColor: c => (isSig(c.dataIndex) || isUp(c.dataIndex)) ? BG : '#000',
    borderColor: c => isSig(c.dataIndex) ? '#e02828' : '#000', order: 0},
  {type: 'bar', data: highs.map((h, i) => ({x: i, y: [lows[i], h]})), grouped: false,
    barThickness: 1.4, minBarLength: 1, borderWidth: 0,
    backgroundColor: c => isSig(c.dataIndex) ? '#e02828' : '#000', order: 1},
  lineDs(bbUpper, '#7c7c7c', 1.6, 4, true),
  lineDs(bbLower, '#7c7c7c', 1.6, 4, true),
  lineDs(chanUpper, '#26268f', 2, 4, false),
  lineDs(chanLower, '#26268f', 2, 4, false),
  lineDs(maOlive, '#9a9a36', 2, 3, true),
  lineDs(maOrange, '#f29a3a', 2, 3, true),
  lineDs(maBlue, '#3434ac', 2, 3, true),
  lineDs(maGreen, '#2ee02e', 2, 3, true),
  ...fibDatasets
];

function arrowHead(ctx, x0, y0, x1, y1, color) {
  const a = Math.atan2(y1 - y0, x1 - x0), len = 20, half = 8;
  ctx.save(); ctx.fillStyle = color; ctx.beginPath();
  ctx.moveTo(x1 + 3 * Math.cos(a), y1 + 3 * Math.sin(a));
  ctx.lineTo(x1 - len * Math.cos(a) + half * Math.sin(a), y1 - len * Math.sin(a) - half * Math.cos(a));
  ctx.lineTo(x1 - len * Math.cos(a) - half * Math.sin(a), y1 - len * Math.sin(a) + half * Math.cos(a));
  ctx.closePath(); ctx.fill(); ctx.restore();
}

const deco = {
  id: 'deco',
  beforeDraw(chart) {
    const {ctx, width, height} = chart;
    ctx.save();
    ctx.fillStyle = BG; ctx.fillRect(0, 0, width, height);
    ctx.fillStyle = '#dedede'; ctx.fillRect(0, 0, width, 5); ctx.fillRect(0, 0, 5, height);
    ctx.fillRect(2488, 0, 3, height);
    ctx.fillRect(0, 921, 2372, 2);
    ctx.strokeStyle = '#9c9c9c'; ctx.lineWidth = 1.5;
    ctx.beginPath(); ctx.moveTo(0, 920); ctx.lineTo(2372, 920); ctx.stroke();
    ctx.restore();
  },
  beforeDatasetsDraw(chart) {
    const {ctx} = chart;
    ctx.save();
    ctx.textAlign = 'center'; ctx.textBaseline = 'alphabetic';
    ctx.fillStyle = '#a2a2a2';
    ctx.font = '142px ' + FONT; ctx.fillText('SX40', 1247, 607);
    ctx.font = '68px ' + FONT; ctx.fillText('Real Estate', 1247, 708);
    ctx.font = '41px ' + FONT; ctx.fillText('Real Estate Sector(C)', 1247, 770);
    ctx.fillText('Real Estate Sector', 1247, 824);
    ctx.restore();
  },
  afterDatasetsDraw(chart) {
    const {ctx} = chart; const xs = chart.scales.x, ys = chart.scales.y;
    ctx.save();
    ctx.beginPath(); ctx.rect(chart.chartArea.left, chart.chartArea.top, chart.chartArea.right - chart.chartArea.left, chart.chartArea.bottom - chart.chartArea.top + 3); ctx.clip();
    arrowDefs.forEach(a => arrowHead(ctx, xs.getPixelForValue(a[0][0]), ys.getPixelForValue(a[0][1]),
      xs.getPixelForValue(a[1][0]), ys.getPixelForValue(a[1][1]), '#c40000'));
    ctx.restore();
  },
  afterDraw(chart) {
    const {ctx, chartArea} = chart; const xs = chart.scales.x, ys = chart.scales.y;
    ctx.save();
    // fib labels
    ctx.font = '15px ' + FONT; ctx.textAlign = 'left'; ctx.textBaseline = 'top';
    fibPct.forEach((p, k) => {
      if (p === 0 || p === 25) return;
      const y = ys.getPixelForValue(fibVal[k]);
      ctx.fillStyle = '#6b3a3a';
      ctx.fillText(p.toFixed(1) + ' (' + fmt2(fibVal[k]) + ')', chartArea.left + 2, y + 3);
    });
    ctx.font = '18px ' + FONT; ctx.textAlign = 'right'; ctx.textBaseline = 'bottom';
    fibPct.forEach((p, k) => {
      if (![25, 50, 61.8, 75, 125, 161.8].includes(p)) return;
      const y = ys.getPixelForValue(fibVal[k]);
      ctx.fillStyle = p === 50 ? '#e5242c' : '#3a3a3a';
      ctx.fillText(fibVal[k].toFixed(2), chartArea.right + 5, y - 2);
    });
    // last price box
    const yp = ys.getPixelForValue(lastPrice);
    ctx.fillStyle = '#ffffff'; ctx.fillRect(2370, yp - 16, 109, 33);
    ctx.strokeStyle = '#555'; ctx.lineWidth = 1.5; ctx.strokeRect(2370, yp - 16, 109, 33);
    ctx.fillStyle = '#111'; ctx.font = '23px ' + FONT; ctx.textAlign = 'center'; ctx.textBaseline = 'middle';
    ctx.fillText(fmt2(lastPrice), 2424.5, yp + 1);
    // last date label
    ctx.font = '15px ' + FONT; ctx.fillStyle = '#333';
    ctx.fillText(lastDateLabel, xs.getPixelForValue(opens.length - 1), 895);
    // Buy / Sell
    ctx.font = '20px ' + FONT; ctx.textAlign = 'left';
    ctx.fillStyle = '#5b8cf2'; ctx.fillText('Buy', 40, 893);
    ctx.fillStyle = '#f04848'; ctx.fillText('Sell', 96, 893);
    // Arith
    ctx.font = '27px ' + FONT; ctx.fillStyle = '#8a8a8a'; ctx.fillText('Arith', 2369, 895);
    // small axis markers
    ctx.fillStyle = '#e6e6e6';
    [[2361, 86], [2361, 768]].forEach(([x, y]) => {
      ctx.beginPath(); ctx.moveTo(x, y); ctx.lineTo(x + 9, y - 6); ctx.lineTo(x + 9, y + 6); ctx.closePath(); ctx.fill();
    });
    ctx.restore();
  }
};

new Chart(document.getElementById('c'), {
  type: 'bar',
  data: {datasets},
  plugins: [deco],
  options: {
    responsive: false, animation: false, devicePixelRatio: 1,
    layout: {padding: {left: 5, top: 5, right: 0, bottom: 0}, autoPadding: false},
    plugins: {legend: {display: false}, tooltip: {enabled: false}},
    scales: {
      x: {type: 'linear', min: X_MIN, max: X_MAX, offset: false,
        afterBuildTicks: s => { s.ticks = monthTickIdx.map(v => ({value: v})); },
        afterFit: s => { s.height = 70; s.paddingLeft = 0; s.paddingRight = 0; },
        ticks: {autoSkip: false, maxRotation: 0, padding: 17, color: '#333',
          font: {family: FONT, size: 18, lineHeight: 1.35},
          callback: v => { const k = monthTickIdx.indexOf(v); return k < 0 ? '' : monthTickLbl[k]; }},
        grid: {color: '#adadad', lineWidth: 1.5, drawTicks: false, offset: false},
        border: {display: false}},
      y: {type: 'linear', position: 'right', min: Y_MIN, max: Y_MAX,
        afterBuildTicks: s => { s.ticks = yTickVals.map(v => ({value: v})); },
        afterFit: s => { s.width = 158; s.paddingTop = 0; s.paddingBottom = 0; },
        ticks: {padding: 44, color: '#222', labelOffset: 4, font: {family: FONT, size: 26},
          callback: v => fmt2(v)},
        grid: {display: false, drawTicks: false},
        border: {display: false}}
    }
  }
});
</script>
</body></html>
